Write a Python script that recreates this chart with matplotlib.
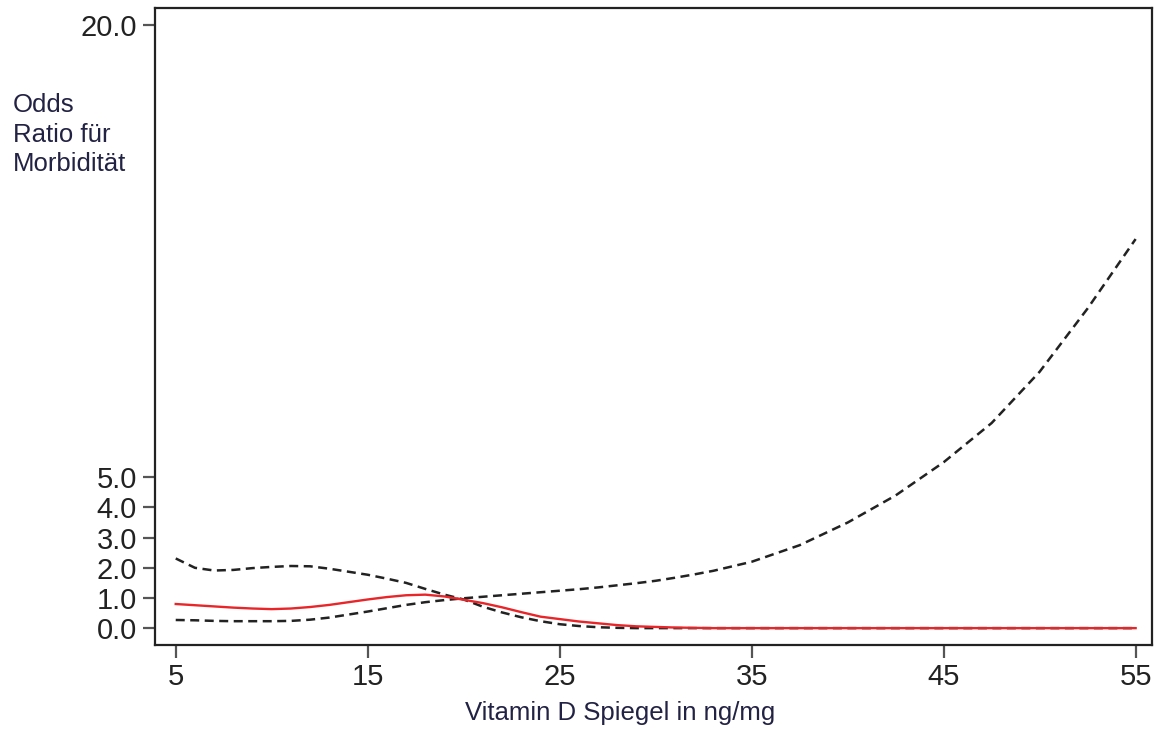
import numpy as np
import matplotlib.pyplot as plt

plt.rcParams['font.family'] = ['Liberation Sans', 'DejaVu Sans']

# Vitamin D level (ng/mg)
vit_d = [5, 6, 7, 8, 9, 10, 11, 12, 13, 14, 15, 16, 17, 18, 19, 20,
         21, 22, 23, 24, 25, 26, 27, 28, 29, 30, 31, 32, 33, 34, 35,
         37.5, 40, 42.5, 45, 47.5, 50, 52.5, 55]
# odds ratio estimate
odds = [0.80, 0.76, 0.72, 0.68, 0.65, 0.63, 0.65, 0.70, 0.77, 0.86, 0.95, 1.03,
        1.09, 1.11, 1.05, 0.94, 0.83, 0.69, 0.53, 0.38, 0.30, 0.22, 0.16, 0.10,
        0.06, 0.04, 0.02, 0.01, 0.0, 0.0, 0.0,
        0.0, 0.0, 0.0, 0.0, 0.0, 0.0, 0.0, 0.0]
# confidence band (the two bounds cross near 20)
ci_rising = [0.27, 0.26, 0.24, 0.23, 0.23, 0.23, 0.24, 0.28, 0.35, 0.45, 0.55, 0.66,
             0.77, 0.86, 0.93, 0.99, 1.04, 1.09, 1.14, 1.19, 1.24, 1.29, 1.35, 1.42,
             1.49, 1.57, 1.67, 1.78, 1.90, 2.05, 2.20,
             2.75, 3.50, 4.40, 5.50, 6.80, 8.50, 10.60, 12.90]
ci_falling = [2.31, 2.00, 1.91, 1.93, 1.99, 2.03, 2.06, 2.05, 1.97, 1.87, 1.77, 1.64,
              1.50, 1.30, 1.11, 0.95, 0.71, 0.52, 0.36, 0.23, 0.13, 0.07, 0.03, 0.01,
              0.0, 0.0, 0.0, 0.0, 0.0, 0.0, 0.0,
              0.0, 0.0, 0.0, 0.0, 0.0, 0.0, 0.0, 0.0]

x_ticks = [5, 15, 25, 35, 45, 55]
y_ticks = [0, 1, 2, 3, 4, 5, 20]

fig = plt.figure(figsize=(11.61, 7.29), dpi=100)
ax = fig.add_axes([0.1335, 0.1152, 0.8587, 0.8738])

dash = (0, (3.6, 2.2))
ax.plot(vit_d, ci_rising, color='#222222', lw=1.8, linestyle=dash)
ax.plot(vit_d, ci_falling, color='#222222', lw=1.8, linestyle=dash)
ax.plot(vit_d, odds, color='#e8262a', lw=1.7)

ax.set_xlim(3.92, 55.85)
ax.set_ylim(-0.56, 20.56)
ax.set_xticks(x_ticks)
ax.set_xticklabels([str(t) for t in x_ticks])
ax.set_yticks(y_ticks)
ax.set_yticklabels([f"{t:.1f}" for t in y_ticks])

for s in ax.spines.values():
    s.set_color('#222222')
    s.set_linewidth(1.6)

ax.tick_params(axis='both', length=9, width=1.6, color='#555555',
               labelsize=21, labelcolor='#222222', pad=4)

fig.text(620 / 1161, 1 - 713 / 729, "Vitamin D Spiegel in ng/mg",
         ha='center', va='center', fontsize=18.5, color='#222244')
fig.text(13 / 1161, 1 - 93 / 729, "Odds\nRatio für\nMorbidität",
         ha='left', va='top', fontsize=18.5, color='#222244', linespacing=1.3)

fig.savefig('out.png', dpi=100)
